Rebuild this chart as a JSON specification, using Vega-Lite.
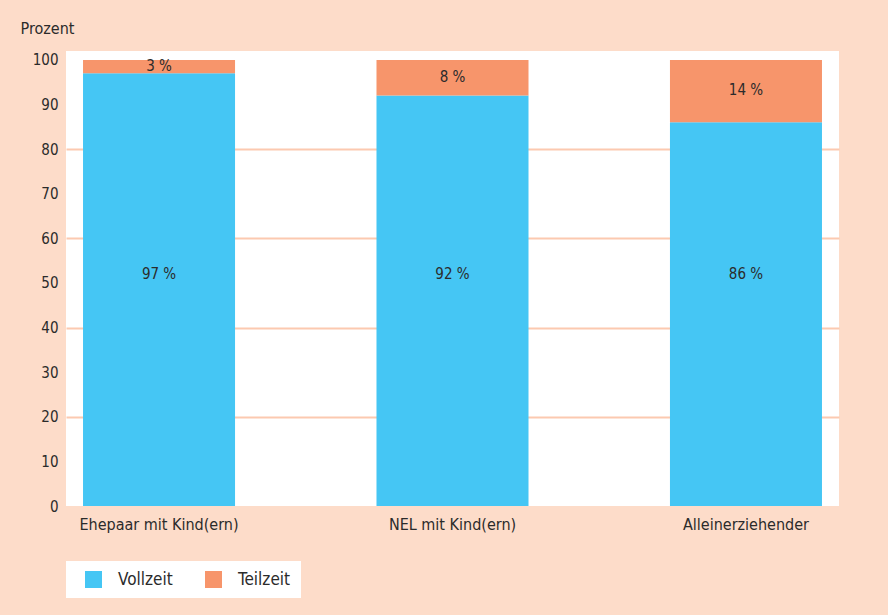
{
  "$schema": "https://vega.github.io/schema/vega-lite/v6.json",
  "width": 773,
  "height": 455,
  "autosize": {"type": "none"},
  "padding": {"left": 66, "top": 51, "right": 49, "bottom": 109},
  "background": "#fddcc9",
  "view": {"fill": "white", "stroke": null},
  "config": {
    "font": "DejaVu Sans Condensed, Roboto, sans-serif",
    "axis": {"labelFont": "DejaVu Sans Condensed, Roboto, sans-serif", "titleFont": "DejaVu Sans Condensed, Roboto, sans-serif", "labelColor": "#2b2b2b", "titleColor": "#2b2b2b"},
    "legend": {"labelFont": "DejaVu Sans Condensed, Roboto, sans-serif"}
  },
  "data": {
    "values": [
      {"group": "Ehepaar mit Kind(ern)", "type": "Vollzeit", "value": 97},
      {"group": "Ehepaar mit Kind(ern)", "type": "Teilzeit", "value": 3},
      {"group": "NEL mit Kind(ern)", "type": "Vollzeit", "value": 92},
      {"group": "NEL mit Kind(ern)", "type": "Teilzeit", "value": 8},
      {"group": "Alleinerziehender", "type": "Vollzeit", "value": 86},
      {"group": "Alleinerziehender", "type": "Teilzeit", "value": 14}
    ]
  },
  "transform": [
    {"stack": "value", "groupby": ["group"], "sort": [{"field": "type", "order": "descending"}], "as": ["y0", "y1"]},
    {"calculate": "(datum.y0 + datum.y1) / 2", "as": "ymid"},
    {"calculate": "datum.value + ' %'", "as": "label"}
  ],
  "encoding": {
    "x": {
      "field": "group", "type": "nominal",
      "sort": ["Ehepaar mit Kind(ern)", "NEL mit Kind(ern)", "Alleinerziehender"],
      "scale": {"paddingInner": 0.482, "paddingOuter": 0.058},
      "axis": {"title": null, "labelAngle": 0, "ticks": false, "domain": false, "labelPadding": 10, "labelFontSize": 16, "grid": false}
    }
  },
  "layer": [
    {
      "mark": {"type": "bar"},
      "encoding": {
        "y": {
          "field": "y0", "type": "quantitative",
          "scale": {"domain": [0, 102], "nice": false},
          "axis": {
            "title": "Prozent", "titleAngle": 0, "titleAlign": "left", "titleBaseline": "middle",
            "titleX": -46, "titleY": -23, "titleFontSize": 16, "titleFontWeight": "normal",
            "values": [0, 10, 20, 30, 40, 50, 60, 70, 80, 90, 100],
            "ticks": false, "domain": false, "labelPadding": 8, "labelFontSize": 15,
            "grid": true, "gridWidth": 2,
            "gridColor": {"condition": {"test": "datum.value % 20 === 0 && datum.value > 0 && datum.value < 100", "value": "#fcc9b0"}, "value": "transparent"}
          }
        },
        "y2": {"field": "y1"},
        "color": {
          "field": "type", "type": "nominal",
          "scale": {"domain": ["Vollzeit", "Teilzeit"], "range": ["#45c6f4", "#f7956b"]},
          "legend": {
            "title": null, "orient": "none", "direction": "horizontal",
            "legendX": 0, "legendY": 510,
            "fillColor": "white", "padding": 10, "symbolOffset": 9,
            "symbolType": "square", "symbolSize": 289, "symbolStrokeWidth": 0, "symbolOpacity": 1,
            "labelFontSize": 17, "labelColor": "#2b2b2b", "labelOffset": 16, "columnPadding": 23
          }
        }
      }
    },
    {
      "transform": [{"filter": "datum.type === 'Vollzeit'"}],
      "mark": {"type": "text", "fontSize": 15, "color": "#2b2b2b", "baseline": "middle"},
      "encoding": {
        "y": {"datum": 52, "type": "quantitative"},
        "text": {"field": "label", "type": "nominal"}
      }
    },
    {
      "transform": [{"filter": "datum.type === 'Teilzeit'"}],
      "mark": {"type": "text", "fontSize": 15, "color": "#2b2b2b", "baseline": "middle", "dy": -1},
      "encoding": {
        "y": {"field": "ymid", "type": "quantitative"},
        "text": {"field": "label", "type": "nominal"}
      }
    }
  ]
}
